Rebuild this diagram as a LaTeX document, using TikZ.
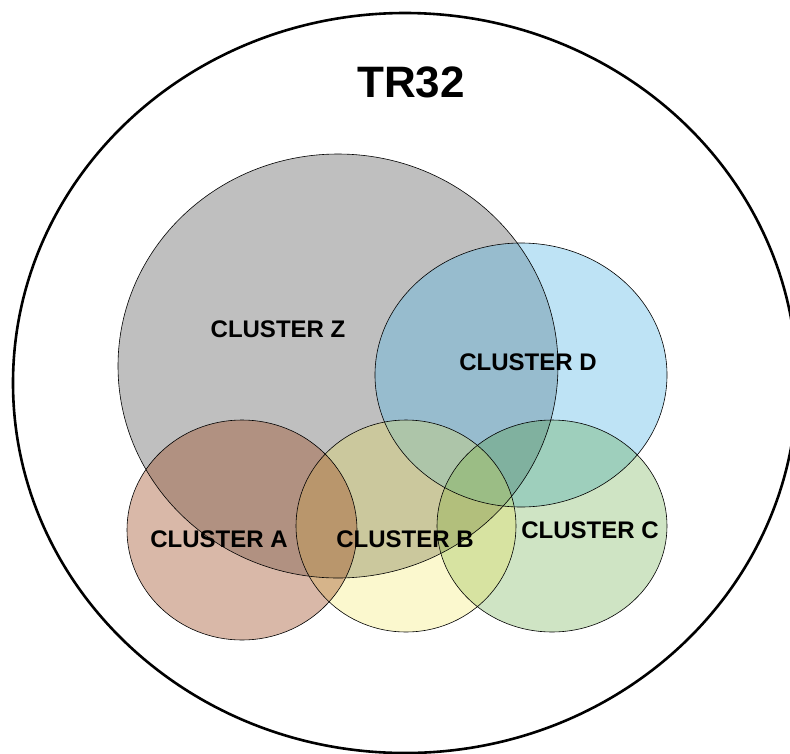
\documentclass[tikz,border=0pt]{standalone}
\usepackage{fontspec}
\setmainfont{Liberation Sans}
\definecolor{zgrey}{RGB}{191,191,191}
\definecolor{dblue}{RGB}{95,186,230}
\definecolor{cgreen}{RGB}{63,147,19}
\definecolor{byellow}{RGB}{239,227,59}
\definecolor{abrown}{RGB}{157,73,32}
\tikzset{
  setshape/.style={draw=black, line width=0.6pt},
  setlabel/.style={font=\fontsize{24}{28}\selectfont\bfseries, text=black}
}
\begin{document}
\begin{tikzpicture}[x=1pt,y=-1pt]
  \useasboundingbox (0,0) rectangle (790,753);
  \clip (0,0) rectangle (790,753);
  % outer set
  \draw[line width=2.6pt] (405,383) ellipse [x radius=392, y radius=370];
  \node[font=\fontsize{44}{50}\selectfont\bfseries] (tr) at (411,82) {TR32};
  % clusters, back to front
  \fill[fill=zgrey] (338,366) ellipse [x radius=220, y radius=212];
  \fill[fill=dblue, fill opacity=0.406] (521,375) ellipse [x radius=146, y radius=132];
  \fill[fill=cgreen, fill opacity=0.25] (552,526) ellipse [x radius=115, y radius=106];
  \fill[fill=byellow, fill opacity=0.25] (406,526) ellipse [x radius=110, y radius=106];
  \fill[fill=abrown, fill opacity=0.39] (242,530) ellipse [x radius=115, y radius=110];
  % outlines on top
  \draw[setshape] (338,366) ellipse [x radius=220, y radius=212];
  \draw[setshape] (521,375) ellipse [x radius=146, y radius=132];
  \draw[setshape] (552,526) ellipse [x radius=115, y radius=106];
  \draw[setshape] (406,526) ellipse [x radius=110, y radius=106];
  \draw[setshape] (242,530) ellipse [x radius=115, y radius=110];
  % labels
  \node[setlabel] (lz) at (278,329) {CLUSTER Z};
  \node[setlabel] (ld) at (528,362) {CLUSTER D};
  \node[setlabel] (la) at (219,539) {CLUSTER A};
  \node[setlabel] (lb) at (405,539) {CLUSTER B};
  \node[setlabel] (lc) at (590,530) {CLUSTER C};
\end{tikzpicture}
\end{document}
